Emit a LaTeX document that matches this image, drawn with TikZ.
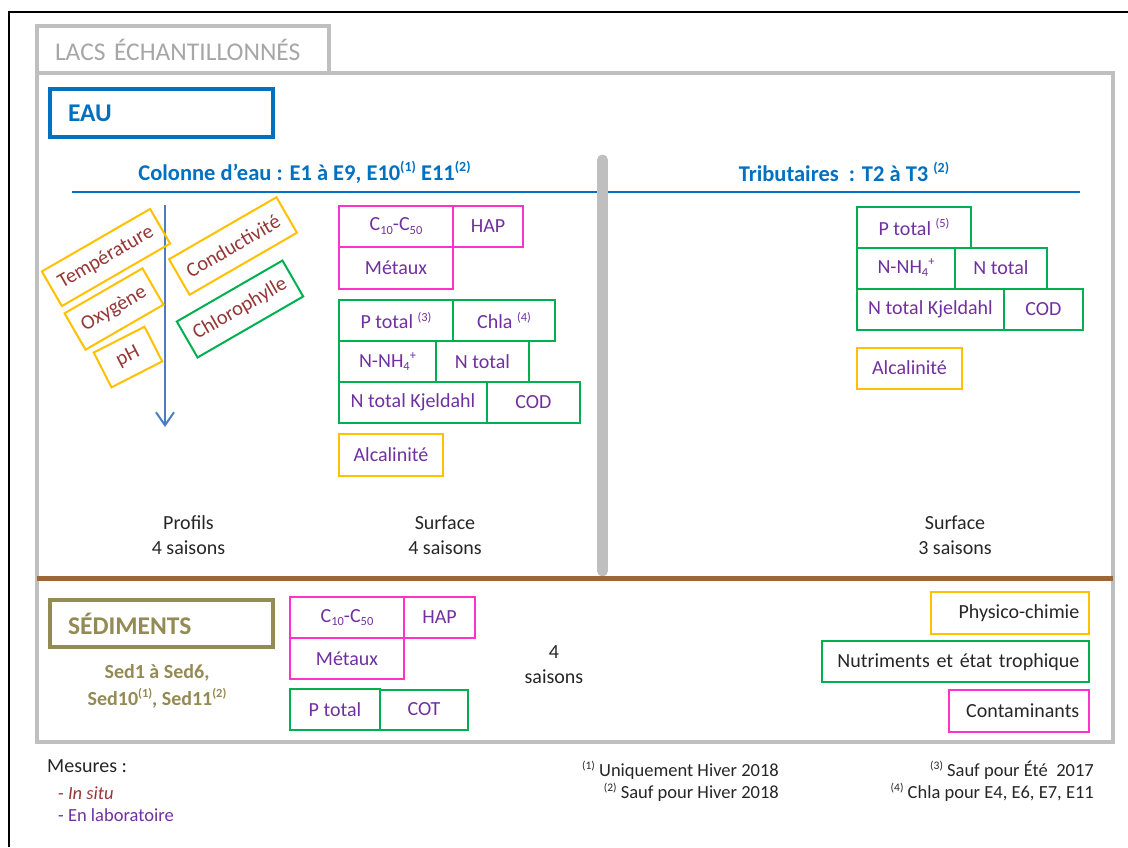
\documentclass[tikz,border=0pt]{standalone}
\usepackage{fontspec}
\setmainfont{Carlito}
\usetikzlibrary{arrows.meta,calc}

\definecolor{framegray}{HTML}{BFBFBF}
\definecolor{titlegray}{HTML}{A6A6A6}
\definecolor{eaublue}{HTML}{0070C0}
\definecolor{arrowblue}{HTML}{4A7DC4}
\definecolor{sedolive}{HTML}{948A54}
\definecolor{sedbrown}{HTML}{9C6638}
\definecolor{physico}{HTML}{FFC000}
\definecolor{nutri}{HTML}{00B050}
\definecolor{contam}{HTML}{FF33CC}
\definecolor{labo}{HTML}{7030A0}
\definecolor{insitu}{HTML}{953735}
\definecolor{darktext}{HTML}{262626}

\newcommand\subtxt[1]{\raisebox{-.35ex}{\scalebox{.62}{#1}}}
\newcommand\suptxt[1]{\raisebox{.8ex}{\scalebox{.62}{#1}}}

\begin{document}
\begin{tikzpicture}[x=1pt, y=-1pt,
                    box/.style={draw, line width=2pt, outer sep=0pt, inner sep=0pt, minimum height=41pt,
                                text=labo, font=\fontsize{20}{24}\selectfont},
                    pinkbox/.style={box, draw=contam},
                    greenbox/.style={box, draw=nutri},
                    orangebox/.style={box, draw=physico},
                    tiltbox/.style={box, text=insitu, rotate=30, font=\fontsize{20.5}{24}\selectfont},
                    secbox/.style={draw, line width=4pt, outer sep=0pt, text width=187pt, inner xsep=18pt, inner ysep=0pt,
                                   minimum height=48pt, align=left, font=\fontsize{25.5}{28}\selectfont\bfseries},
                    legendbox/.style={draw, line width=2pt, outer sep=0pt, inner xsep=10pt, inner ysep=0pt,
                                      minimum height=41.5pt, align=right, text=darktext, font=\fontsize{20}{24}\selectfont},
                    header/.style={text=eaublue, font=\fontsize{22.5}{26}\selectfont\bfseries},
                    season/.style={align=center, text=darktext, font=\fontsize{20}{24.5}\selectfont},
                    foot/.style={inner sep=0pt, text=darktext, font=\fontsize{18.5}{22}\selectfont}
]
\useasboundingbox (0,0) rectangle (1128,847);

\draw [line width=2.5pt] (9,847) -- (9,12) -- (1128,12);

\node [draw=framegray, line width=3.5pt, text width=256pt, inner xsep=18pt, inner ysep=0pt, minimum height=47pt,
       align=left, text=titlegray, font=\fontsize{25.5}{28}\selectfont] at (183,49.5) (titre) {LACS ÉCHANTILLONNÉS};
\draw [framegray, line width=3.5pt] (37,73) rectangle (1113,742);

\node [secbox, draw=eaublue, text=eaublue] at (161.5,113) (eau) {EAU};
\node [header] at (304.5,172) (colonne) {Colonne d’eau : E1 à E9, E10\suptxt{(1)} E11\suptxt{(2)}};
\node [header] at (844,172) (tribu) {Tributaires~ : T2 à T3 \suptxt{(2)}};

\draw [eaublue, line width=2pt] (72,192) -- (1080,192);
\draw [framegray, line width=11pt, line cap=round] (602.5,160) -- (602.5,571);
\draw [sedbrown, line width=5pt] (37,578) -- (1113,578);

% profils
\coordinate (haut) at (165,205);
\coordinate (bas) at (165,427);
\draw [arrowblue, line width=2pt, -{Straight Barb[length=13pt,width=18pt]}] (haut) -- (bas);

\node [tiltbox, draw=physico, minimum width=125pt, minimum height=40pt] at (106,257.5) (temp) {Température};
\node [tiltbox, draw=physico, minimum width=90pt, minimum height=42pt] at (114,309) (oxy) {Oxygène};
\node [tiltbox, draw=physico, minimum width=57pt, minimum height=39pt, rotate=-3] at (128,357) (ph) {pH};
\node [tiltbox, draw=physico, minimum width=124pt] at (233,246) (cond) {Conductivité};
\node [tiltbox, draw=nutri, minimum width=122pt, minimum height=41.5pt] at (240,309) (chloro) {Chlorophylle};

% surface colonne
\node [pinkbox, minimum width=114pt] at (396,226) (c1050a) {C\subtxt{10}-C\subtxt{50}};
\node [pinkbox, minimum width=70pt, anchor=west] at (c1050a.east) (hapa) {HAP};
\node [pinkbox, minimum width=114pt, minimum height=42.5pt, anchor=north] at (c1050a.south) (metauxa) {Métaux};
\node [greenbox, minimum width=114pt] at (396,320.5) (ptotala) {P total \suptxt{(3)}};
\node [greenbox, minimum width=102pt, anchor=west] at (ptotala.east) (chlaa) {Chla \suptxt{(4)}};
\node [greenbox, minimum width=97pt, anchor=north west] at (ptotala.south west) (nnh4a) {N-NH\subtxt{4}\suptxt{+}};
\node [greenbox, minimum width=93pt, anchor=west] at (nnh4a.east) (ntotala) {N total};
\node [greenbox, minimum width=148pt, anchor=north west] at (nnh4a.south west) (ntka) {N total Kjeldahl};
\node [greenbox, minimum width=93pt, anchor=west] at (ntka.east) (coda) {COD};
\node [orangebox, minimum width=104pt, minimum height=42pt, anchor=north west] at ($(ntka.south west)+(0,11)$) (alca) {Alcalinité};

% tributaires
\node [greenbox, minimum width=114pt] at (914,227) (ptotalb) {P total \suptxt{(5)}};
\node [greenbox, minimum width=98pt, anchor=north west] at (ptotalb.south west) (nnh4b) {N-NH\subtxt{4}\suptxt{+}};
\node [greenbox, minimum width=92pt, anchor=west] at (nnh4b.east) (ntotalb) {N total};
\node [greenbox, minimum width=147pt, anchor=north west] at (nnh4b.south west) (ntkb) {N total Kjeldahl};
\node [greenbox, minimum width=79pt, anchor=west] at (ntkb.east) (codb) {COD};
\node [orangebox, minimum width=105pt, anchor=north west] at ($(ntkb.south west)+(0,18)$) (alcb) {Alcalinité};

\node [season] at (188.5,535) (profils) {Profils\\4 saisons};
\node [season] at (445,535) (surfa) {Surface\\4 saisons};
\node [season] at (955,535) (surfb) {Surface\\3 saisons};

% sediments
\node [secbox, draw=sedolive, text=sedolive, minimum height=47pt] at (161.5,623.5) (sed) {SÉDIMENTS};
\node [align=center, text=sedolive, font=\fontsize{20}{27}\selectfont\bfseries] at (157,686.5) (sedlist)
      {Sed1 à Sed6,\\Sed10\suptxt{(1)}, Sed11\suptxt{(2)}};

\node [pinkbox, minimum width=114pt] at (347,617.5) (c1050s) {C\subtxt{10}-C\subtxt{50}};
\node [pinkbox, minimum width=71pt, anchor=west] at (c1050s.east) (haps) {HAP};
\node [pinkbox, minimum width=114pt, anchor=north] at (c1050s.south) (metauxs) {Métaux};
\node [greenbox, minimum width=90pt] at (335,709.5) (ptotals) {P total};
\node [greenbox, minimum width=88pt, minimum height=40pt, anchor=west] at (ptotals.east) (cots) {COT};
\node [season] at (554,664.5) (sedsaisons) {4\\saisons};

% legende
\node [legendbox, draw=physico, text width=138.6pt] at (1010,613.2) (legphys) {Physico-chimie};
\node [legendbox, draw=nutri, text width=247.6pt] at (955.5,661.7) (legnutri) {Nutriments et état trophique};
\node [legendbox, draw=contam, text width=120pt] at (1019.3,711) (legcont) {Contaminants};

% mesures et notes
\node [foot, anchor=west, font=\fontsize{20}{24}\selectfont] at (47,766) (mesures) {Mesures :};
\node [foot, anchor=west, text=insitu] at (58,793) (insitu) {- \textit{In situ}};
\node [foot, anchor=west, text=labo] at (58,815) (labo) {- En laboratoire};
\node [foot, anchor=east] at (779,770) (note1) {\suptxt{(1)} Uniquement Hiver 2018};
\node [foot, anchor=east] at (779,792) (note2) {\suptxt{(2)} Sauf pour Hiver 2018};
\node [foot, anchor=east] at (1094,770) (note3) {\suptxt{(3)} Sauf pour Été~~2017};
\node [foot, anchor=east] at (1094,792) (note4) {\suptxt{(4)} Chla pour E4, E6, E7, E11};
\end{tikzpicture}
\end{document}
